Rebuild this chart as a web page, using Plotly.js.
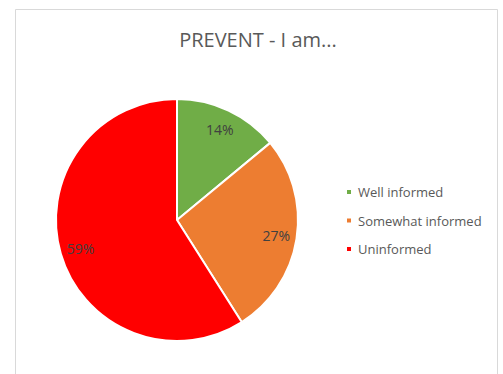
<!DOCTYPE html>
<html>
<head>
<meta charset="utf-8">
<script src="https://cdn.plot.ly/plotly-3.0.1.min.js"></script>
<style>html,body{margin:0;padding:0;background:#fff;}#chart{width:503px;height:374px;}</style>
</head>
<body>
<div id="chart"></div>
<script>
const labels = ["Well informed", "Somewhat informed", "Uninformed"];
const values = [14, 27, 59];
const colors = ["#70AD47", "#ED7D31", "#FF0000"];
const titleText = "PREVENT - I am...";

const W = 503, H = 374;
const dom = {x: [56 / W, 298 / W], y: [1 - 341 / H, 1 - 99 / H]};

const pieTrace = {
  type: "pie",
  labels: labels,
  values: values,
  sort: false,
  direction: "clockwise",
  rotation: 0,
  marker: {colors: colors, line: {color: "#ffffff", width: 2}},
  textinfo: "none",
  domain: dom,
  hoverinfo: "none"
};

// transparent ring used only to place the percentage labels further out
const labelTrace = {
  type: "pie",
  labels: labels,
  values: values,
  sort: false,
  direction: "clockwise",
  rotation: 0,
  hole: 0.66,
  showlegend: false,
  marker: {colors: ["rgba(0,0,0,0)", "rgba(0,0,0,0)", "rgba(0,0,0,0)"], line: {width: 0}},
  textinfo: "percent",
  textposition: "inside",
  insidetextorientation: "horizontal",
  textfont: {family: "Open Sans, sans-serif", size: 14, color: "#404040"},
  domain: dom,
  hoverinfo: "none"
};

const layout = {
  width: W, height: H,
  margin: {l: 0, r: 0, t: 0, b: 0},
  paper_bgcolor: "#ffffff",
  showlegend: true,
  title: {text: titleText, x: 258 / W, xanchor: "center", y: 1 - 40 / H, yanchor: "middle",
          font: {family: "Open Sans, sans-serif", size: 20, color: "#595959"}},
  legend: {x: 318 / W, y: 1 - 177 / H, xanchor: "left", yanchor: "top",
           font: {family: "Open Sans, sans-serif", size: 13, color: "#595959"},
           itemwidth: 30, bgcolor: "rgba(0,0,0,0)"},
  shapes: [{type: "rect", xref: "paper", yref: "paper",
            x0: 15.5 / W, x1: 497.5 / W, y0: -0.05, y1: 1 - 9.5 / H,
            line: {color: "#D9D9D9", width: 1}, fillcolor: "rgba(0,0,0,0)"}]
};

Plotly.newPlot("chart", [pieTrace, labelTrace], layout, {displayModeBar: false, staticPlot: true}).then(function (gd) {
  // Excel-like legend: small squares, wider row spacing
  const legend = gd.querySelector(".legend");
  if (!legend) return;
  legend.querySelectorAll("[clip-path]").forEach(function (el) { el.removeAttribute("clip-path"); });
  const items = legend.querySelectorAll(".traces");
  let y0 = null;
  items.forEach(function (it, i) {
    const tr = it.getAttribute("transform") || "";
    const m = tr.match(/translate\(\s*([-\d.]+)[ ,]+([-\d.]+)\s*\)/);
    if (m) {
      const x = parseFloat(m[1]);
      if (y0 === null) y0 = parseFloat(m[2]);
      it.setAttribute("transform", "translate(" + x + "," + (y0 + i * 28.5) + ")");
    }
    it.querySelectorAll(".legendpoints path").forEach(function (p) {
      p.setAttribute("d", "M14,3H8V-3H14Z");
    });
  });
});
</script>
</body>
</html>
